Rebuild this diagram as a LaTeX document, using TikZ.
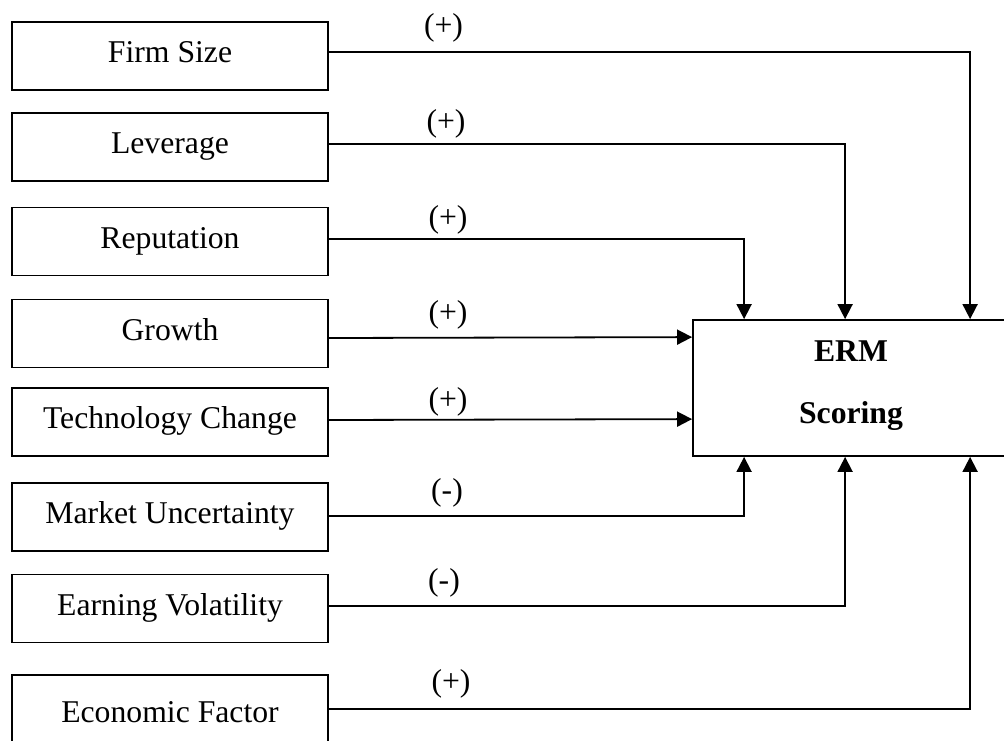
\documentclass[tikz,border=0pt]{standalone}
\usepackage{fontspec}
\setmainfont{Liberation Serif}
\usetikzlibrary{arrows.meta}
\begin{document}
\begin{tikzpicture}[x=1pt,y=-1pt,
  box/.style={draw, line width=1.8pt, minimum width=316pt, minimum height=68pt,
    inner sep=0pt, text height=24pt, text depth=10.5pt,
    font=\fontsize{31.7}{38}\selectfont},
  ermbox/.style={draw, line width=1.8pt, minimum width=316pt, minimum height=136pt,
    inner sep=0pt, align=center, text height=84pt, text depth=14pt,
    font=\fontsize{31.7}{62}\selectfont\bfseries},
  lbl/.style={anchor=base, inner sep=0pt, font=\fontsize{31.7}{38}\selectfont},
  conn/.style={line width=1.8pt, -{Triangle[length=15pt,width=15pt]}}
]
\useasboundingbox (0,0) rectangle (1004,740);

% left factor boxes
\node[box] (firm)   at (170,56)    {Firm Size};
\node[box] (lev)    at (170,147)   {Leverage};
\node[box] (rep)    at (170,241.5) {Reputation};
\node[box] (growth) at (170,333.5) {Growth};
\node[box] (tech)   at (170,422)   {Technology Change};
\node[box] (market) at (170,517)   {Market Uncertainty};
\node[box] (earn)   at (170,608.5) {Earning Volatility};
\node[box, minimum height=82pt] (econ) at (170,716) {Economic Factor};

% target box
\node[ermbox] (erm) at (851,388) {ERM\\Scoring};

% connectors
\draw[conn] ([yshift=4pt]firm.east)    -| ([xshift=278pt]erm.north west);
\draw[conn] ([yshift=3pt]lev.east)     -| ([xshift=153pt]erm.north west);
\draw[conn] ([yshift=2.5pt]rep.east)   -| ([xshift=52pt]erm.north west);
\draw[conn] ([yshift=-4.5pt]growth.east) -- ([yshift=-18pt]erm.north west);
\draw[conn] ([yshift=2pt]tech.east)    -- ([yshift=-100pt]erm.north west);
\draw[conn] ([yshift=1pt]market.east)  -| ([xshift=52pt]erm.south west);
\draw[conn] ([yshift=2.5pt]earn.east)  -| ([xshift=153pt]erm.south west);
\draw[conn] ([yshift=7pt]econ.east)    -| ([xshift=278pt]erm.south west);

% sign labels
\node[lbl] (s1) at (443.5,35) {(+)};
\node[lbl] (s2) at (446,131)  {(+)};
\node[lbl] (s3) at (448,227)  {(+)};
\node[lbl] (s4) at (448,322)  {(+)};
\node[lbl] (s5) at (448,409)  {(+)};
\node[lbl] (s6) at (447,500)  {(-)};
\node[lbl] (s7) at (444,590)  {(-)};
\node[lbl] (s8) at (451,691)  {(+)};
\end{tikzpicture}
\end{document}
